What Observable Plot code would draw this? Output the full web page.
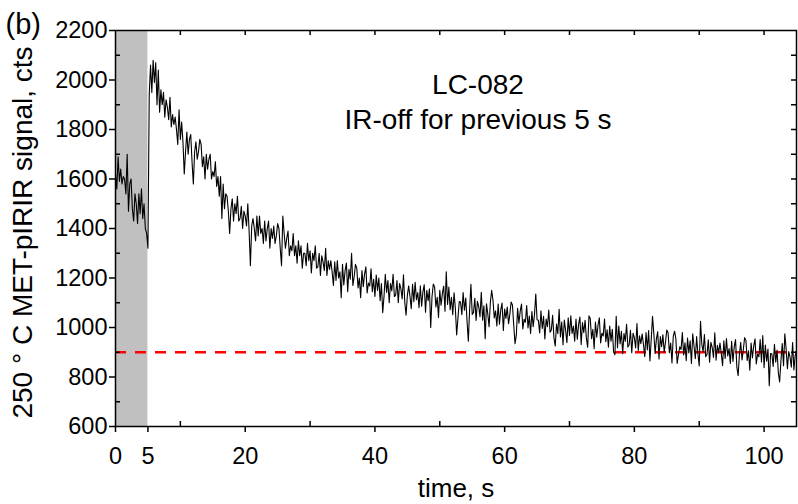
<!DOCTYPE html>
<html><head><meta charset="utf-8">
<script src="https://cdn.jsdelivr.net/npm/d3@7"></script>
<script src="https://cdn.jsdelivr.net/npm/@observablehq/plot@0.6"></script>
<style>body{margin:0;background:#fff}</style>
</head><body><div id="chart"></div>
<script>
// ---- data ----
const timeStep = 0.2; // s between readings
const signalIROff = [1620,1560,1690,1590,1640,1580,1610,1600,1540,1700,1470,1580,1600,1480,1430,1540,1500,1420,1540,1460,1560,1440,1500,1400,1380,1320];
const signalAfter = [
1940,2060,1950,2080,1990,2070,1900,2040,1870,1960,
1900,1950,1850,1920,1890,1840,1930,1810,1860,1820,
1850,1800,1740,1880,1760,1830,1750,1620,1710,1790,
1700,1760,1780,1670,1580,1710,1750,1680,1710,1760,
1740,1650,1690,1600,1700,1640,1680,1700,1600,1630,
1610,1670,1570,1610,1530,1610,1440,1580,1480,1540,
1530,1470,1380,1480,1520,1430,1500,1460,1530,1430,
1440,1490,1400,1470,1450,1410,1500,1390,1250,1410,
1440,1400,1350,1450,1370,1450,1380,1400,1340,1430,
1350,1400,1430,1320,1400,1360,1410,1340,1370,1420,
1400,1320,1250,1450,1380,1320,1360,1390,1290,1330,
1310,1380,1290,1330,1260,1350,1290,1330,1240,1300,
1300,1250,1340,1270,1310,1220,1300,1270,1330,1240,
1245,1300,1210,1290,1265,1230,1320,1210,1270,1235,
1270,1225,1170,1265,1190,1270,1200,1225,1120,1255,
1172,1230,1260,1145,1235,1195,1300,1170,1205,1255,
1240,1160,1200,1120,1230,1165,1215,1245,1140,1180,
1168,1237,1145,1195,1125,1212,1150,1200,1108,1178,
1060,1125,1215,1142,1190,1100,1178,1148,1215,1125,
1132,1190,1100,1178,1157,1115,1213,1102,1050,1130,
1168,1127,1076,1175,1104,1183,1112,1141,1080,1168,
1086,1144,1173,1062,1150,1108,1156,1000,1124,1176,
1164,1083,1122,1041,1150,1090,1138,1167,1066,1225,
1093,1163,1072,1122,1052,1140,1078,970,1037,1105,
1103,1052,1141,1070,1119,1027,945,1074,1175,1053,
1061,1118,1028,1106,1085,1044,1142,1029,1088,955,
1096,1055,1003,1102,1150,1110,1039,1067,1006,1095,
1013,1071,1099,988,1075,1037,1083,1015,1053,1103,
1091,1010,935,969,1078,1017,1066,1095,994,1033,
1021,1089,998,1046,976,1064,1003,1052,1135,1031,
1029,978,1067,996,1045,954,1034,1003,1071,981,
990,1049,958,925,1014,975,1074,962,1022,930,
1030,989,939,1039,968,1047,976,1006,945,1034,
953,1012,1042,931,1020,979,1029,958,920,1047,
1036,955,993,914,1022,961,1010,1039,938,977,
966,1034,943,991,920,1006,945,993,901,890,
1045,918,1006,934,985,894,976,944,1013,921,
930,989,898,977,958,917,1016,906,966,935,
974,933,882,980,909,988,865,950,1045,976,
895,954,983,873,963,922,971,901,941,990,
979,898,937,857,965,985,954,855,891,922,
911,980,889,938,866,957,897,946,855,975,
924,874,963,893,845,1025,933,902,972,882,
891,950,860,940,920,879,979,868,928,898,
937,896,846,946,875,955,885,915,855,944,
863,922,951,841,805,892,940,869,910,959,
948,867,906,827,937,877,925,954,853,893,
882,951,861,967,838,929,864,913,765,895,
894,843,932,860,909,816,780,867,935,846,
975,913,834,903,881,840,939,828,888,900
];
const irOffWindow = [{start: 0, end: 5}];
const baselineLevel = [900];
const xDomain = [0, 105];
const yDomain = [600, 2200];
const xMajorTicks = [0, 5, 20, 40, 60, 80, 100];
const xMinorTicks = [10, 30, 50, 70, 90];
const xTopTicks = [10, 20, 30, 40, 50, 60, 70, 80, 90, 100];
const yMajorTicks = [600, 800, 1000, 1200, 1400, 1600, 1800, 2000, 2200];
const yMinorTicks = [700, 900, 1100, 1300, 1500, 1700, 1900, 2100];
const yRightTicks = [700, 800, 900, 1000, 1100, 1200, 1300, 1400, 1500, 1600, 1700, 1800, 1900, 2000, 2100];
const panelLabel = ["(b)"];
const sampleLabel = ["LC-082"];
const conditionLabel = ["IR-off for previous 5 s"];
const xLabel = ["time, s"];
const yLabel = ["250 ° C MET-pIRIR signal, cts"];

// ---- layout ----
const W = 798, H = 504, mL = 115, mR = 2, mT = 30, mB = 78;
const fw = W - mL - mR, fh = H - mT - mB;
const font = "'Liberation Sans', Arial, Helvetica, sans-serif";

const signal = signalIROff.concat(signalAfter);
const rows = signal.map((v, i) => ({t: +(i * timeStep).toFixed(1), v}));

const chart = Plot.plot({
  width: W, height: H,
  marginLeft: mL, marginRight: mR, marginTop: mT, marginBottom: mB,
  style: {fontFamily: font, color: "black", background: "white", overflow: "visible"},
  x: {domain: xDomain},
  y: {domain: yDomain},
  marks: [
    Plot.rect(irOffWindow, {x1: "start", x2: "end", y1: yDomain[0], y2: yDomain[1], fill: "#c0c0c0"}),
    Plot.ruleY(baselineLevel, {stroke: "#ff0000", strokeWidth: 2.5, strokeDasharray: "11,9"}),
    Plot.line(rows, {x: "t", y: "v", stroke: "black", strokeWidth: 1.1}),
    Plot.frame({stroke: "black", strokeWidth: 1.5}),
    Plot.tickX(xMinorTicks, {x: d => d, stroke: "black", strokeWidth: 1.5, insetTop: fh - 5}),
    Plot.tickX(xTopTicks, {x: d => d, stroke: "black", strokeWidth: 1.5, insetBottom: fh - 5}),
    Plot.tickY(yMinorTicks, {y: d => d, stroke: "black", strokeWidth: 1.5, insetRight: fw - 5}),
    Plot.tickY(yRightTicks, {y: d => d, stroke: "black", strokeWidth: 1.5, insetLeft: fw - 5}),
    Plot.axisX({ticks: xMajorTicks, tickSize: 6, tickPadding: 15, tickFormat: "d", fontSize: 23.5, label: null, strokeWidth: 1.5}),
    Plot.axisY({ticks: yMajorTicks, tickSize: 6, tickPadding: 2, tickFormat: "d", fontSize: 23.5, label: null, strokeWidth: 1.5}),
    Plot.text(sampleLabel, {text: d => d, frameAnchor: "top", dx: 22, dy: 55, lineAnchor: "middle", fontSize: 28}),
    Plot.text(conditionLabel, {text: d => d, frameAnchor: "top", dx: 22, dy: 90, lineAnchor: "middle", fontSize: 28}),
    Plot.text(xLabel, {text: d => d, frameAnchor: "bottom", dy: 62, lineAnchor: "middle", fontSize: 26}),
    Plot.text(yLabel, {text: d => d, frameAnchor: "left", dx: -92, dy: 4, rotate: -90, textAnchor: "middle", lineAnchor: "middle", fontSize: 28}),
    Plot.text(panelLabel, {text: d => d, frameAnchor: "top-left", dx: -110, dy: -6, textAnchor: "start", lineAnchor: "middle", fontSize: 29})
  ]
});
document.getElementById("chart").appendChild(chart);
</script>
</body></html>
